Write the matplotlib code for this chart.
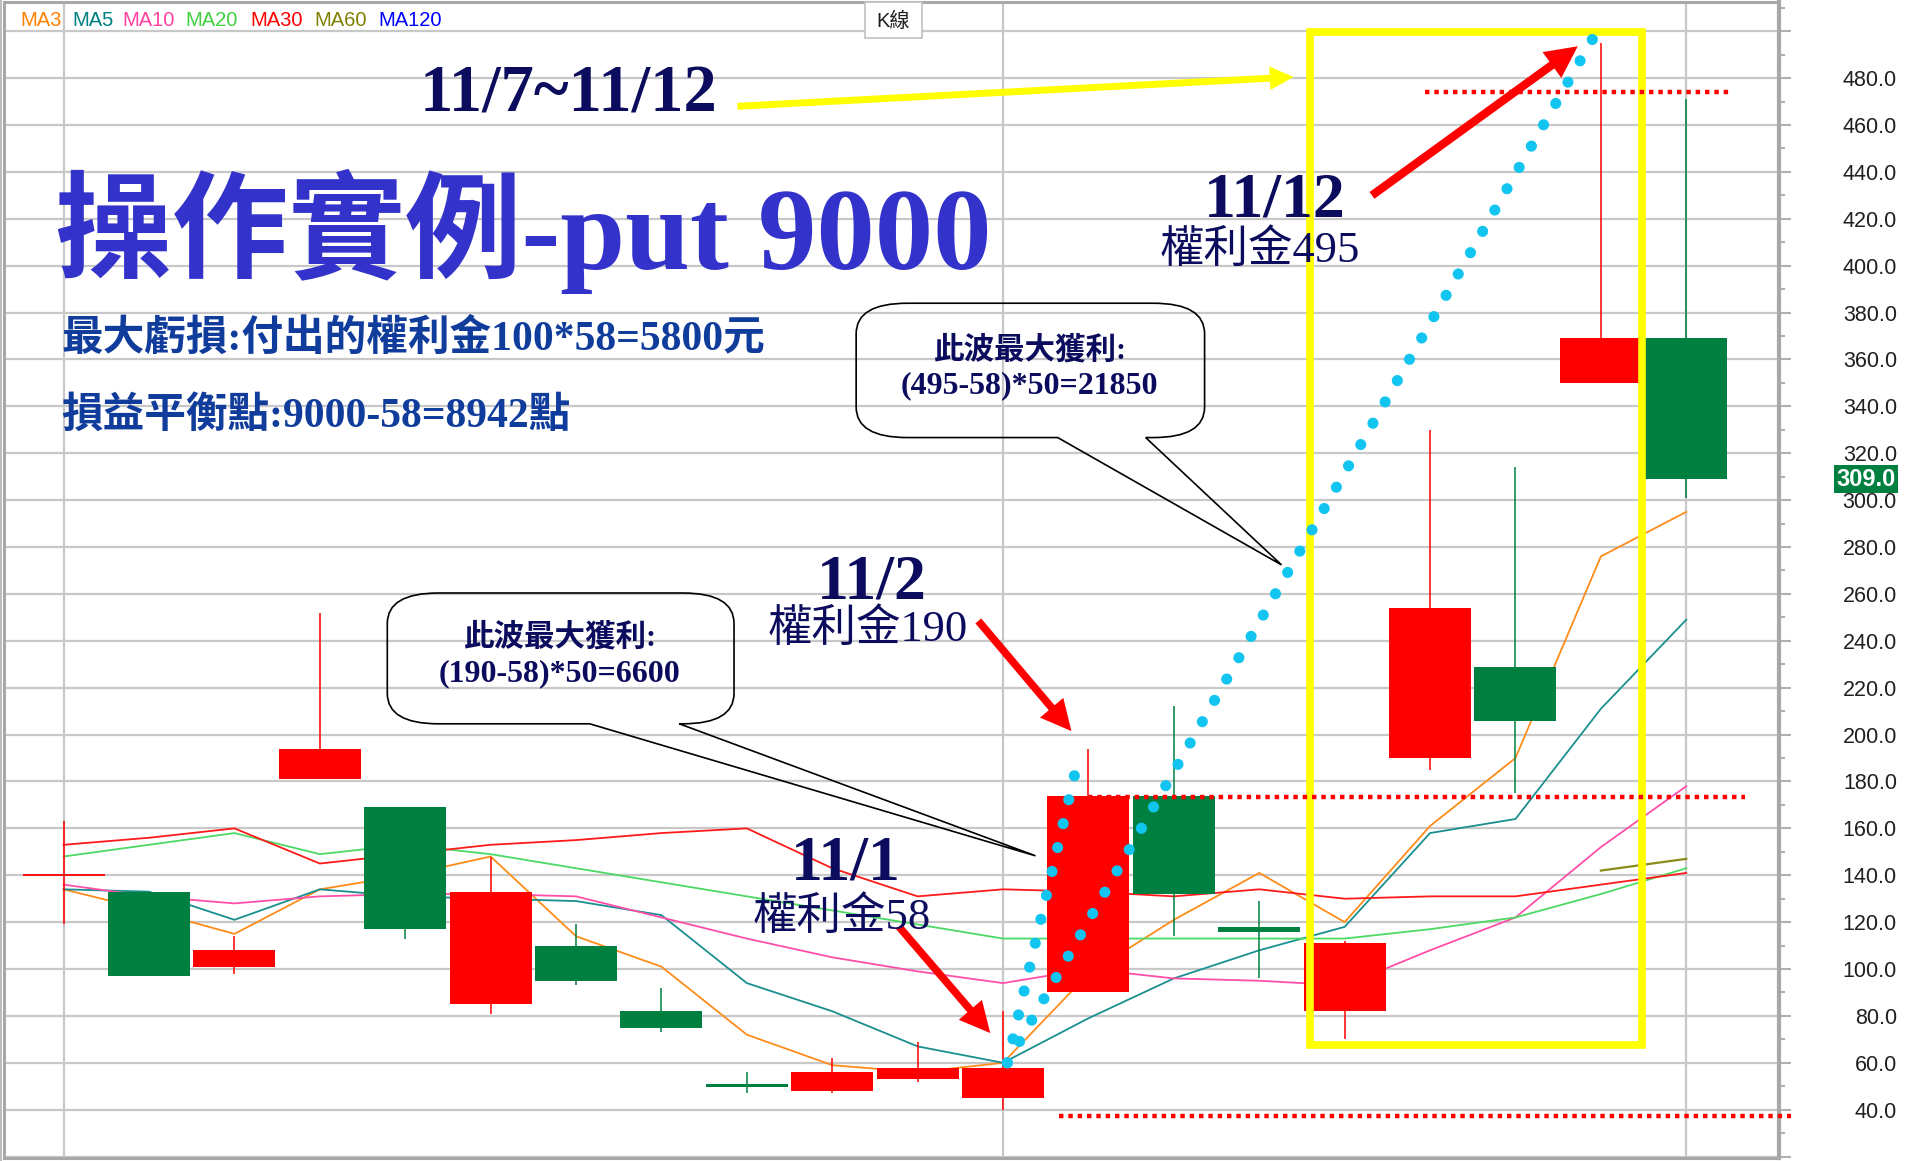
import numpy as np
import matplotlib
matplotlib.use("Agg")
import matplotlib.pyplot as plt
from matplotlib.patches import Rectangle, PathPatch
from matplotlib.path import Path
from matplotlib.transforms import blended_transform_factory

# daily candles of the put premium, left to right
opens  = [140, 133, 101, 181, 169, 85, 110, 82, 51, 48, 53, 45, 90, 174, 118, 82, 190, 229, 350, 369]
closes = [140, 97, 108, 194, 117, 133, 95, 75, 49.5, 56, 58, 58, 174, 132, 116, 111, 254, 206, 369, 309]
highs  = [163, 133, 114, 252, 169, 148, 119, 92, 56, 62, 69, 82, 194, 212, 129, 112, 330, 314, 495, 471]
lows   = [119, 97, 98, 181, 113, 81, 93, 73, 47, 47, 52, 40, 90, 114, 96, 70, 185, 175, 350, 301]

# moving averages as drawn on the chart
ma3  = [134, 125, 115, 134, 140, 148, 114, 101, 72, 59, 56, 60, 98, 121, 141, 120, 161, 190, 276, 295]
ma5  = [134, 133, 121, 134, 131, 130, 129, 123, 94, 82, 67, 60, 79, 96, 108, 118, 158, 164, 211, 249]
ma10 = [136, 131, 128, 131, 132, 132, 131, 122, 113, 105, 99, 94, 100, 96, 95, 93, 108, 122, 152, 178]
ma20 = [148, 153, 158, 149, 153, 149, 143, 137, 131, 125, 119, 113, 113, 113, 113, 113, 117, 122, 132, 143]
ma30 = [153, 156, 160, 145, 149, 153, 155, 158, 160, 143, 131, 134, 133, 131, 134, 130, 131, 131, 136, 141]
ma60_idx = [18, 19]
ma60 = [142, 147]

ma_names  = ["MA3", "MA5", "MA10", "MA20", "MA30", "MA60", "MA120"]
ma_colors = ["#FF8000", "#008080", "#FF40A0", "#40D040", "#FF0000", "#808000", "#0000FF"]

vgrid_idx = [0, 11, 19]
last_price = 309.0

# key days used by the notes
day_1101, day_1102, day_1112 = 11, 12, 18
prem_1101, prem_1102, prem_1112 = 58, 190, 495
levels = [474, 173.5, 37.5]

W, H = 1917, 1161
UP, DOWN = "#FF0000", "#008040"
NAVY = "#0C0C5E"
CJK = ["Liberation Serif", "Noto Sans CJK TC"]

fig = plt.figure(figsize=(W / 100, H / 100), dpi=100)
ax = fig.add_axes([3.5 / W, 3 / H, 1775 / W, 1156.5 / H])
ax.set_xlim(-0.704, 20.08)
ax.set_ylim(19.4, 512.7)

# grid + axis
ax.set_yticks(np.arange(20, 501, 20))
ax.set_yticks(np.arange(30, 511, 20), minor=True)
ax.set_yticklabels(["" if v in (20, 500) else "%.1f" % v for v in np.arange(20, 501, 20)])
ax.set_xticks([])
ax.yaxis.tick_right()
ax.tick_params(axis="y", which="major", direction="out", length=8.6, width=1.5,
               color="#B0B0B0", pad=76.7, labelsize=15.5, labelcolor="#202020")
ax.tick_params(axis="y", which="minor", direction="out", length=4.3, width=1.5, color="#B0B0B0")
for lbl in ax.get_yticklabels():
    lbl.set_horizontalalignment("right")
    lbl.set_fontfamily("Liberation Sans")
ax.grid(axis="y", which="major", color="#C8C8C8", lw=1.6, zorder=0)
for xi in vgrid_idx:
    ax.axvline(xi, color="#C8C8C8", lw=1.6, zorder=0)
for s in ax.spines.values():
    s.set_color("#A8A8A8")
    s.set_linewidth(2.2)
ax.spines["right"].set_linewidth(3)
fig.add_artist(plt.Line2D([0.6 / W, 0.6 / W], [0, 1], transform=fig.transFigure, color="#B0B0B0", lw=1.2))

# moving averages
x = np.arange(len(closes))
ax.plot(x, ma3, color="#FF8C1A", lw=1.3, zorder=2)
ax.plot(x, ma5, color="#1A8F8F", lw=1.3, zorder=2)
ax.plot(x, ma10, color="#FF4FA8", lw=1.3, zorder=2)
ax.plot(x, ma20, color="#4CD964", lw=1.3, zorder=2)
ax.plot(x, ma30, color="#FF1A1A", lw=1.3, zorder=2)
ax.plot(ma60_idx, ma60, color="#8C8C1A", lw=1.6, zorder=2)

# candles
for i, (o, c, h, l) in enumerate(zip(opens, closes, highs, lows)):
    col = UP if c >= o else DOWN
    ax.vlines(i, l, h, color=col, lw=1.1, zorder=3)
    if o == c:
        ax.hlines(o, i - 0.48, i + 0.48, color=col, lw=1.3, zorder=3)
    else:
        ax.bar(i, abs(c - o), bottom=min(o, c), width=0.96, color=col, zorder=3)


def bubble(x0, x1, y0, y1, ta, tb, tip, rx=0.6, ry=13):
    # rounded callout with a wedge tail on its bottom edge
    verts = [(tb, y0), (x1 - rx, y0), (x1, y0), (x1, y0 + ry),
             (x1, y1 - ry), (x1, y1), (x1 - rx, y1),
             (x0 + rx, y1), (x0, y1), (x0, y1 - ry),
             (x0, y0 + ry), (x0, y0), (x0 + rx, y0),
             (ta, y0), tip, (tb, y0)]
    L, C = Path.LINETO, Path.CURVE3
    codes = [Path.MOVETO, L, C, C, L, C, C, L, C, C, L, C, C, L, L, L]
    ax.add_patch(PathPatch(Path(verts, codes), fc="none", ec="black", lw=1.2, zorder=4))


bubble(3.79, 7.85, 204.6, 260.4, 6.16, 7.21, (11.38, 148.3))
bubble(9.28, 13.36, 326.7, 384.0, 11.64, 12.67, (14.26, 272.4))
ax.text(5.81, 241.2, "此波最大獲利:", family=CJK, weight="bold", fontsize=22, color=NAVY,
        ha="center", va="center", zorder=8)
ax.text(5.81, 226.0, "(%d-%d)*50=%d" % (prem_1102, prem_1101, (prem_1102 - prem_1101) * 50),
        family=CJK, weight="bold", fontsize=23, color=NAVY, ha="center", va="center", zorder=8)
ax.text(11.31, 363.7, "此波最大獲利:", family=CJK, weight="bold", fontsize=22, color=NAVY,
        ha="center", va="center", zorder=8)
ax.text(11.31, 348.6, "(%d-%d)*50=%d" % (prem_1112, prem_1101, (prem_1112 - prem_1101) * 50),
        family=CJK, weight="bold", fontsize=23, color=NAVY, ha="center", va="center", zorder=8)

# yellow box around 11/7~11/12
ax.add_patch(Rectangle((14.59, 67.7), 18.48 - 14.59, 499.8 - 67.7, fill=False,
                       ec="#FFFF00", lw=5.5, zorder=4))

# red dotted levels
ax.plot([15.94, 19.52], [levels[0]] * 2, color="red", lw=3.2, ls=(0, (1, 1.1)), zorder=5)
ax.plot([12.0, 19.69], [levels[1]] * 2, color="red", lw=3.2, ls=(0, (1, 1.1)), zorder=5)
ax.plot([11.66, 20.23], [levels[2]] * 2, color="red", lw=3.2, ls=(0, (1, 1.1)), zorder=5, clip_on=False)

# cyan dotted paths from the 11/1 low premium
start = (day_1101 + 0.05, 60)
for end in [(day_1102 - 0.11, 191), (day_1112 - 0.1, 496.5)]:
    ax.plot([start[0], end[0]], [start[1], end[1]], color="#12C5F0", lw=8,
            ls=(0, (0.01, 2.2)), dash_capstyle="round", zorder=6)


def arrow(p0, p1, color, tail, head_w, head_l):
    ax.annotate("", xy=p1, xytext=p0, zorder=7,
                arrowprops=dict(arrowstyle="simple,head_length=%g,head_width=%g,tail_width=%g"
                                % (head_l, head_w, tail), fc=color, ec="none",
                                mutation_scale=10, shrinkA=0, shrinkB=0))


arrow((7.89, 468), (14.4, 480.5), "#FFFF00", 0.5, 1.7, 1.7)
arrow((9.78, 118.1), (10.85, 72.7), "red", 0.55, 2.2, 2.2)
arrow((10.71, 248.5), (11.8, 201.5), "red", 0.55, 2.2, 2.2)
arrow((15.32, 430), (17.73, 493.6), "red", 0.6, 2.3, 2.3)

# labels
ax.text(-0.1, 414.8, "操作實例-put 9000", family=CJK, weight="bold", fontsize=84,
        color="#3333CC", ha="left", va="center", zorder=8)
ax.text(-0.03, 368.9, "最大虧損:付出的權利金100*%d=%d元" % (prem_1101, 100 * prem_1101),
        family=CJK, weight="bold", fontsize=30, color="#103C9C", ha="left", va="center", zorder=8)
ax.text(-0.03, 336.0, "損益平衡點:9000-%d=%d點" % (prem_1101, 9000 - prem_1101),
        family=CJK, weight="bold", fontsize=30, color="#103C9C", ha="left", va="center", zorder=8)
ax.text(5.91, 472.7, "11/7~11/12", family=CJK, weight="bold", fontsize=48, color=NAVY,
        ha="center", va="center", zorder=8)
for lx, ly, day, px, py, prem in [(14.18, 427.3, "11/12", 14.0, 406.5, prem_1112),
                                  (9.46, 264.6, "11/2", 9.41, 244.8, prem_1102),
                                  (9.16, 144.7, "11/1", 9.11, 122.2, prem_1101)]:
    ax.text(lx, ly, day, family=CJK, weight="bold", fontsize=46, color=NAVY,
            ha="center", va="center", zorder=8)
    ax.text(px, py, "權利金%d" % prem, family=CJK, fontsize=32, color=NAVY,
            ha="center", va="center", zorder=8)

# last price tag on the axis
tr = blended_transform_factory(fig.transFigure, ax.transData)
ax.text(1896 / W, last_price, "%.1f" % last_price, transform=tr, family="Liberation Sans",
        weight="bold", fontsize=17, color="white", ha="right", va="center", zorder=9,
        clip_on=False, bbox=dict(boxstyle="square,pad=0.1", fc="#008040", ec="none"))

# header: MA legend and the K線 tab
for name, col, px in zip(ma_names, ma_colors, [20, 72, 122, 185, 250, 314, 378]):
    fig.text(px / W, 1 - 21 / H, name, family="Liberation Sans", fontsize=14.5, color=col,
             ha="left", va="center")
fig.add_artist(Rectangle((865 / W, 1 - 38 / H), 57 / W, 36 / H, transform=fig.transFigure,
                         fc="white", ec="#C0C0C0", lw=1.2))
fig.text(893.5 / W, 1 - 21 / H, "K線", family=["Liberation Sans", "Noto Sans CJK TC"],
         fontsize=14.5, color="#202020", ha="center", va="center")

fig.savefig("out.png", dpi=100)
